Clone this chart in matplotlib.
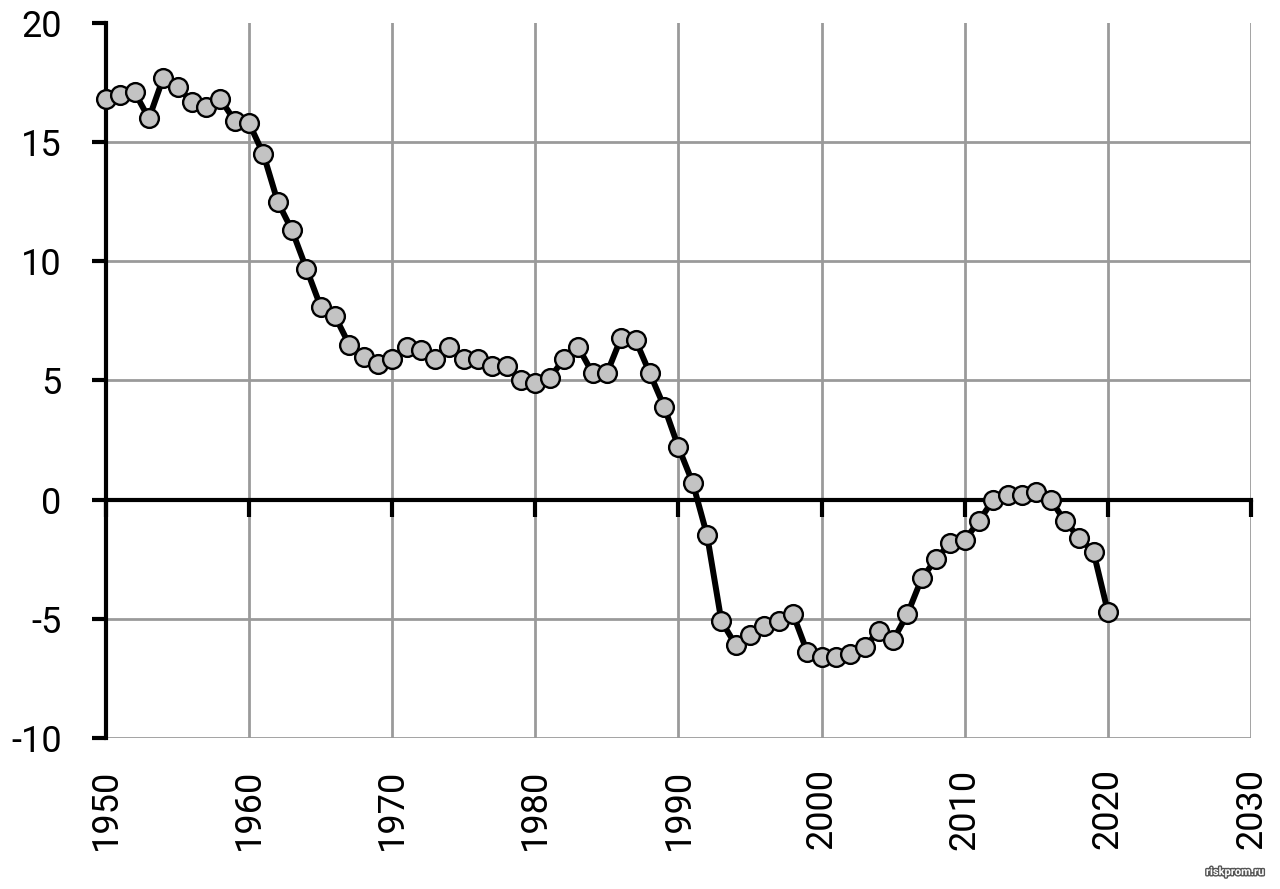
import matplotlib
matplotlib.use("Agg")
import matplotlib.pyplot as plt
import matplotlib.patheffects as pe

years = list(range(1950, 2021))
values = [16.8, 17.0, 17.1, 16.0, 17.7, 17.3, 16.7, 16.5, 16.8, 15.9,
          15.8, 14.5, 12.5, 11.3, 9.7, 8.1, 7.7, 6.5, 6.0, 5.7,
          5.9, 6.4, 6.3, 5.9, 6.4, 5.9, 5.9, 5.6, 5.6, 5.0,
          4.9, 5.1, 5.9, 6.4, 5.3, 5.3, 6.8, 6.7, 5.3, 3.9,
          2.2, 0.7, -1.5, -5.1, -6.1, -5.7, -5.3, -5.1, -4.8, -6.4,
          -6.6, -6.6, -6.5, -6.2, -5.5, -5.9, -4.8, -3.3, -2.5, -1.8,
          -1.7, -0.9, 0.0, 0.2, 0.2, 0.3, 0.0, -0.9, -1.6, -2.2,
          -4.7]
xticks = list(range(1950, 2031, 10))
yticks = list(range(-10, 21, 5))

plt.rcParams['font.family'] = ['Roboto', 'DejaVu Sans']
plt.rcParams['axes.unicode_minus'] = False

fig = plt.figure(figsize=(12.8, 8.89), dpi=100)
ax = fig.add_axes([0.0828, 0.170, 0.8945, 0.804])
ax.set_xlim(1950, 2030)
ax.set_ylim(-10, 20)
ax.set_xticks(xticks)
ax.set_yticks(yticks)

ax.grid(True, color='#9a9a9a', linewidth=2)
ax.set_axisbelow(True)
ax.yaxis.get_gridlines()[-1].set_visible(False)
ax.xaxis.get_gridlines()[0].set_visible(False)

for s in ['top', 'right']:
    ax.spines[s].set_visible(False)
ax.spines['left'].set_linewidth(3)
ax.spines['bottom'].set_position(('data', 0))
ax.spines['bottom'].set_linewidth(3)

ax.tick_params(axis='y', direction='out', length=10, width=3, labelsize=26, pad=22)
ax.tick_params(axis='x', direction='out', length=12, width=3, labelbottom=False)

sec = ax.secondary_xaxis('bottom')
sec.set_xticks(xticks)
sec.set_xticklabels([str(t) for t in xticks], rotation=90)
sec.tick_params(length=0, labelsize=26, pad=22)
sec.spines['bottom'].set_visible(False)

ax.plot(years, values, color='black', linewidth=4.3, marker='o', markersize=13.5,
        markerfacecolor='#c3c3c3', markeredgecolor='black', markeredgewidth=1.7,
        zorder=5, clip_on=False)

fig.text(0.965, 0.019, 'riskprom.ru', ha='center', va='center', fontsize=8,
         fontweight='bold', color='white',
         path_effects=[pe.withStroke(linewidth=2, foreground='#555555')])

fig.savefig('out.png', dpi=100)
